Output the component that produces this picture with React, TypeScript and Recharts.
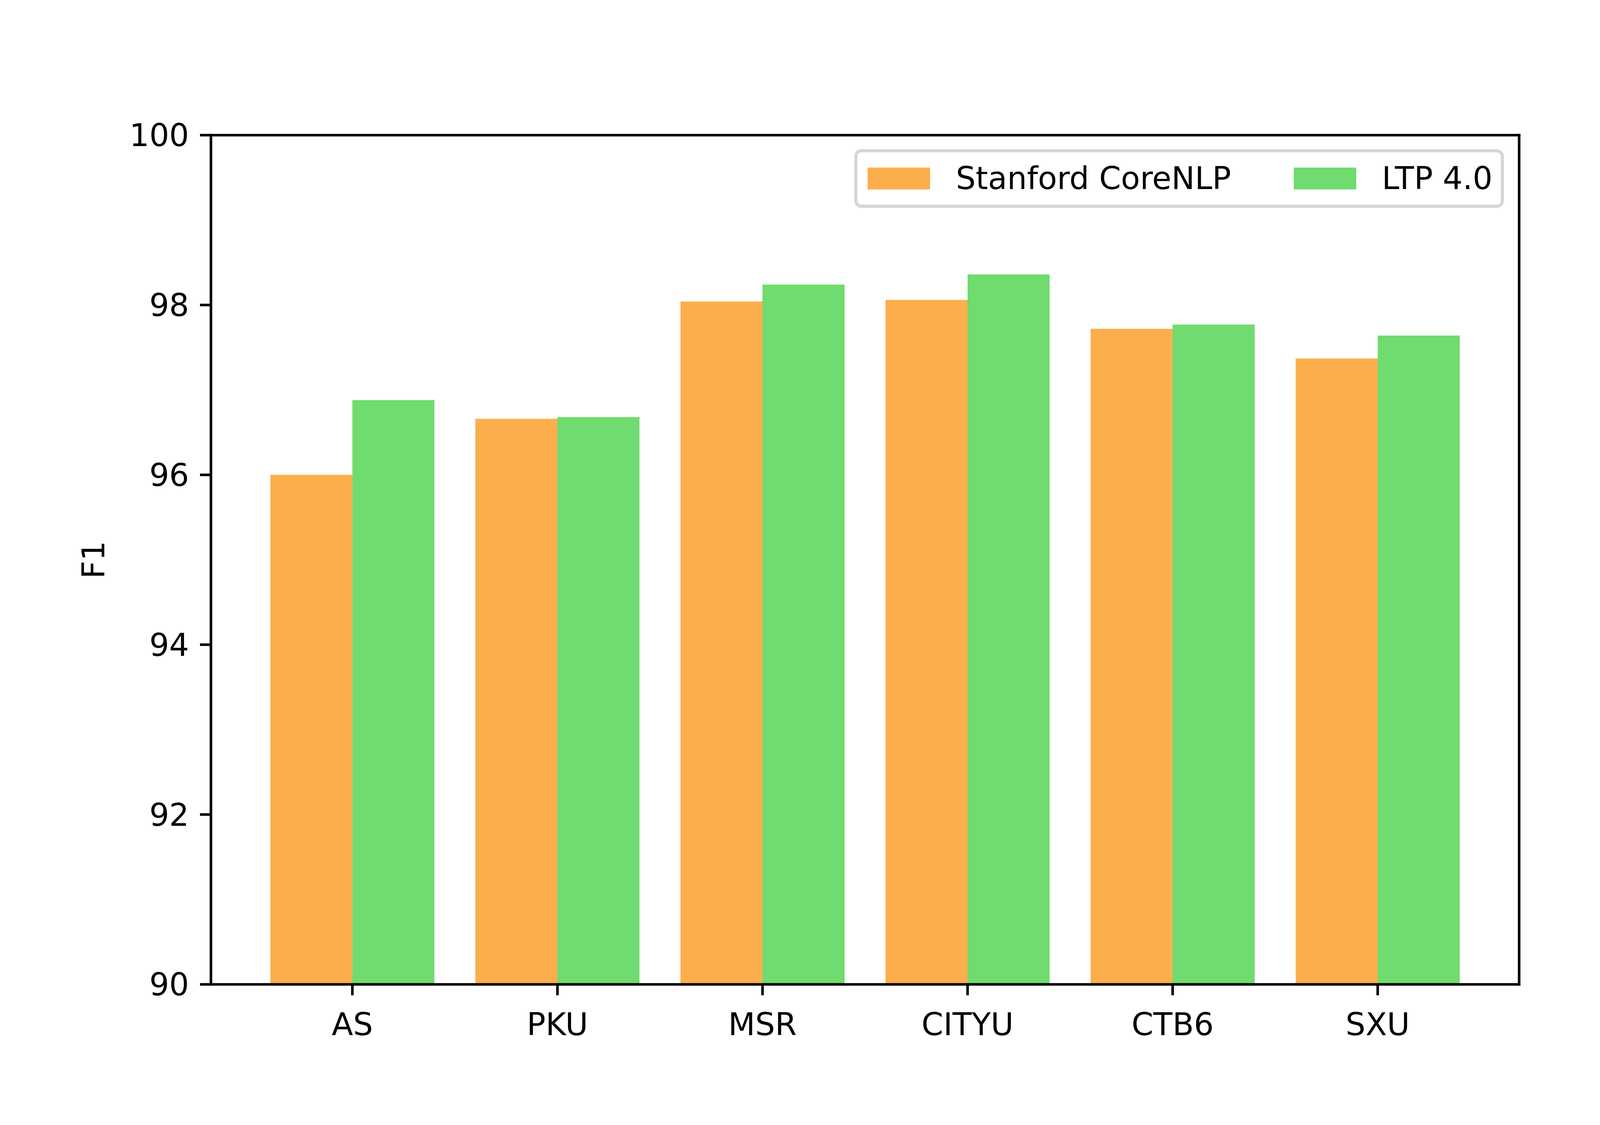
import { BarChart, Bar, XAxis, YAxis, Legend } from 'recharts';

const categories = ['AS', 'PKU', 'MSR', 'CITYU', 'CTB6', 'SXU'];
const stanford = [96.0, 96.66, 98.04, 98.06, 97.72, 97.37];
const ltp = [96.88, 96.68, 98.24, 98.36, 97.77, 97.64];
const seriesNames = ['Stanford CoreNLP', 'LTP 4.0'];
const yTicks = [90, 92, 94, 96, 98, 100];

const data = categories.map((name, i) => ({ name, stanford: stanford[i], ltp: ltp[i] }));

const FONT = 'DejaVu Sans';
const FS = 80;
const LW = 6.6;
const axisLine = { stroke: '#000', strokeWidth: LW, strokeLinecap: 'square' as const };
const tickLine = { stroke: '#000', strokeWidth: LW };
const tickStyle = { fill: '#000', fontSize: FS, fontFamily: FONT };

function LegendBox({ payload }: any) {
  const items = [...(payload || [])].sort(
    (a: any, b: any) => seriesNames.indexOf(a.value) - seriesNames.indexOf(b.value)
  );
  return (
    <div
      style={{
        boxSizing: 'border-box',
        width: 1663,
        height: 150,
        border: '8px solid #d6d6d6',
        borderRadius: 18,
        background: '#fff',
        display: 'flex',
        alignItems: 'center',
        paddingLeft: 26,
        fontFamily: FONT,
        fontSize: FS,
        color: '#000',
      }}
    >
      {items.map((it: any, i: number) => (
        <div key={i} style={{ display: 'flex', alignItems: 'center', marginRight: i === 0 ? 160 : 0 }}>
          <div style={{ width: 160, height: 56, background: it.color, marginRight: 66 }} />
          <span style={{ whiteSpace: 'nowrap', lineHeight: 1 }}>{it.value}</span>
        </div>
      ))}
    </div>
  );
}

export default function App() {
  return (
    <div style={{ position: 'absolute', left: 0, top: 0, width: 4320, height: 2880, background: '#fff' }}>
      <BarChart
        width={4320}
        height={2880}
        data={data}
        margin={{ top: 345, right: 430, bottom: 0, left: 0 }}
        barGap={0}
        barCategoryGap="10%"
      >
        <XAxis
          dataKey="name"
          height={360}
          padding={{ left: 99.6, right: 99.6 }}
          axisLine={axisLine}
          tickLine={tickLine}
          tickSize={28}
          tickMargin={45}
          tick={tickStyle}
          interval={0}
        />
        <XAxis
          xAxisId="top"
          orientation="top"
          dataKey="name"
          height={1}
          padding={{ left: 99.6, right: 99.6 }}
          tick={false}
          tickLine={false}
          axisLine={axisLine}
        />
        <YAxis
          width={540}
          domain={[90, 100]}
          ticks={yTicks}
          allowDataOverflow
          axisLine={axisLine}
          tickLine={tickLine}
          tickSize={28}
          tickMargin={28}
          tick={tickStyle}
          label={{
            value: 'F1',
            angle: -90,
            position: 'insideLeft',
            offset: 239,
            style: { textAnchor: 'middle', fill: '#000', fontSize: FS, fontFamily: FONT },
          }}
        />
        <YAxis
          yAxisId="right"
          orientation="right"
          width={1}
          domain={[90, 100]}
          tick={false}
          tickLine={false}
          axisLine={axisLine}
        />
        <Legend
          layout="vertical"
          align="center"
          verticalAlign="middle"
          content={<LegendBox />}
          wrapperStyle={{ position: 'absolute', left: 2187, top: 382, width: 1663, height: 150 }}
        />
        <Bar dataKey="stanford" name={seriesNames[0]} fill="#FDAE4C" isAnimationActive={false} />
        <Bar dataKey="ltp" name={seriesNames[1]} fill="#70DB6E" isAnimationActive={false} />
      </BarChart>
    </div>
  );
}
